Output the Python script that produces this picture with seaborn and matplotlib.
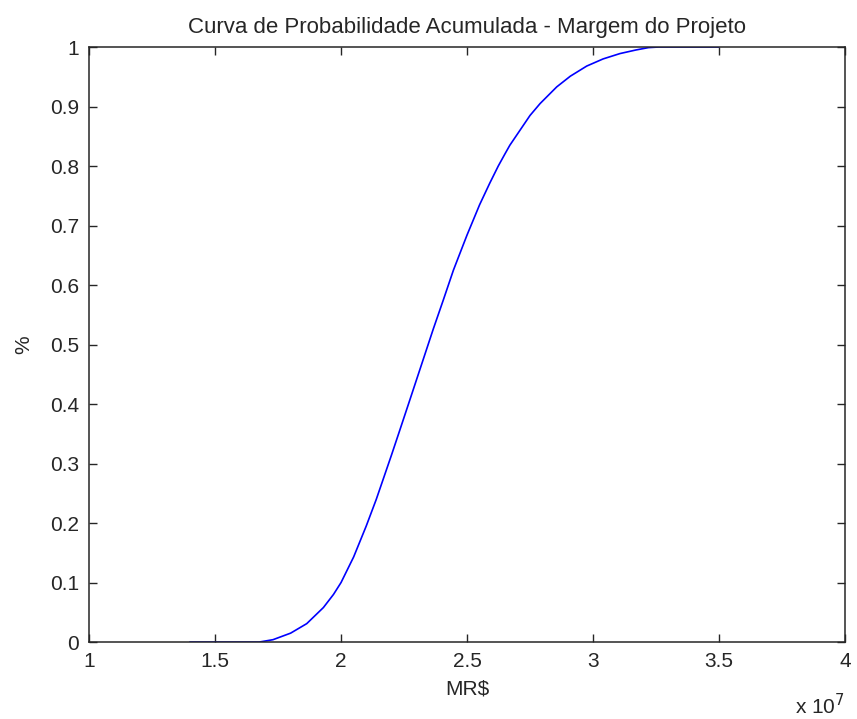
import numpy as np
import pandas as pd
import matplotlib
matplotlib.use("Agg")
import matplotlib.pyplot as plt
import seaborn as sns

# margem do projeto (em unidades de 1e7 R$) e probabilidade acumulada
margem = [1.40, 1.50, 1.60, 1.675, 1.73, 1.80, 1.864, 1.93, 1.97, 2.00,
          2.05, 2.10, 2.14, 2.17, 2.20, 2.23, 2.27, 2.327, 2.366, 2.406,
          2.446, 2.478, 2.50, 2.55, 2.59, 2.624, 2.65, 2.67, 2.75, 2.79,
          2.856, 2.91, 2.975, 3.04, 3.107, 3.17, 3.22, 3.26, 3.40, 3.50]
prob = [0.0, 0.0, 0.0, 0.0, 0.004, 0.015, 0.031, 0.058, 0.080, 0.100,
        0.143, 0.195, 0.240, 0.277, 0.314, 0.352, 0.403, 0.476, 0.526, 0.575,
        0.625, 0.660, 0.684, 0.735, 0.771, 0.800, 0.820, 0.835, 0.885, 0.905,
        0.933, 0.951, 0.968, 0.980, 0.989, 0.995, 0.999, 1.0, 1.0, 1.0]

xticks = [1, 1.5, 2, 2.5, 3, 3.5, 4]
xtick_labels = ["1", "1.5", "2", "2.5", "3", "3.5", "4"]
yticks = [0, 0.1, 0.2, 0.3, 0.4, 0.5, 0.6, 0.7, 0.8, 0.9, 1]
ytick_labels = ["0", "0.1", "0.2", "0.3", "0.4", "0.5", "0.6", "0.7", "0.8", "0.9", "1"]

sns.set_style("ticks")
plt.rcParams['font.family'] = ['Liberation Sans', 'DejaVu Sans']
plt.rcParams['font.size'] = 15

df = pd.DataFrame({"margem": margem, "prob": prob})

fig = plt.figure(figsize=(8.57, 7.19), dpi=100)
ax = fig.add_axes([0.1039, 0.107, 0.8821, 0.8276])

sns.lineplot(data=df, x="margem", y="prob", ax=ax, color=(0, 0, 1),
             linewidth=1.2, estimator=None, sort=False)

ax.set_xlim(1, 4)
ax.set_ylim(0, 1)
ax.set_xticks(xticks)
ax.set_xticklabels(xtick_labels)
ax.set_yticks(yticks)
ax.set_yticklabels(ytick_labels)
ax.tick_params(direction="in", length=6, width=1, top=True, right=True,
               labelsize=15, colors="#262626", pad=7)
for s in ax.spines.values():
    s.set_visible(True)
    s.set_linewidth(1.1)
    s.set_color("#262626")

ax.set_title("Curva de Probabilidade Acumulada - Margem do Projeto",
             fontsize=16, pad=10)
ax.set_xlabel("MR$", fontsize=15, labelpad=6)
ax.set_ylabel("%", fontsize=15, labelpad=12)
ax.text(1.0, -0.085, r"x 10$^7$", transform=ax.transAxes, ha="right",
        va="top", fontsize=15)

fig.savefig("out.png", dpi=100)
